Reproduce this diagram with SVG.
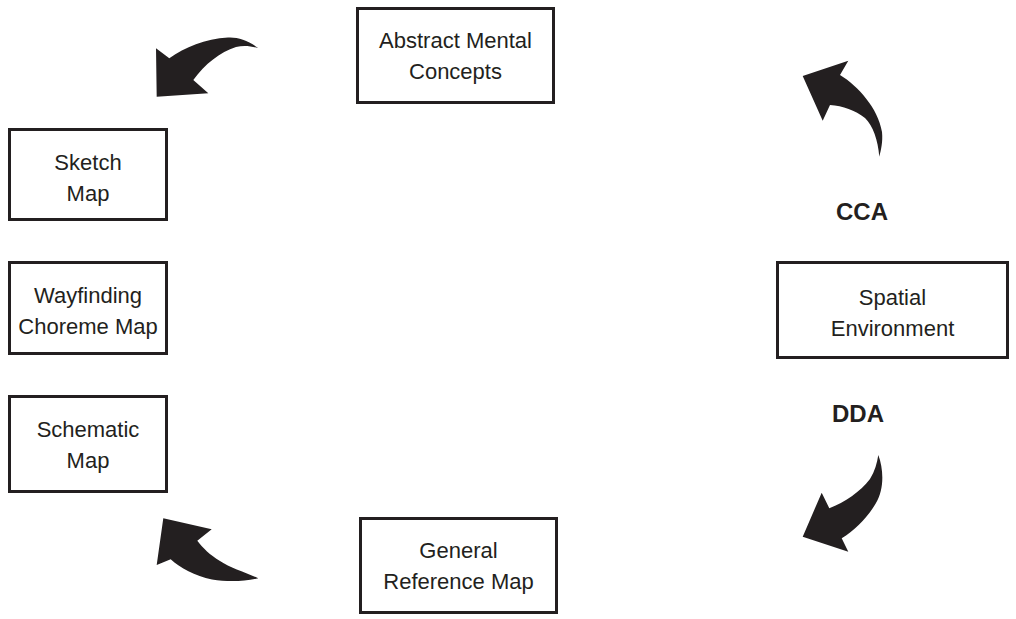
<svg xmlns="http://www.w3.org/2000/svg" width="1016" height="619" viewBox="0 0 1016 619">
  <style>
    .box { fill: #ffffff; stroke: #231f20; stroke-width: 3; }
    .lbl { font-family: "Liberation Sans", Arial, sans-serif; font-size: 22px; fill: #231f20; text-anchor: middle; }
    .tag { font-family: "Liberation Sans", Arial, sans-serif; font-size: 24px; font-weight: bold; fill: #231f20; text-anchor: middle; }
    .curved { fill: #231f20; stroke: none; }
  </style>
  <rect width="1016" height="619" fill="#ffffff"/>

  <g id="abstract-mental-concepts">
    <rect class="box" x="357.5" y="8.5" width="196" height="94"/>
    <text class="lbl" x="455.5" y="48">Abstract Mental</text>
    <text class="lbl" x="455.5" y="79">Concepts</text>
  </g>

  <g id="sketch-map">
    <rect class="box" x="9.5" y="129.5" width="157" height="90"/>
    <text class="lbl" x="88" y="170">Sketch</text>
    <text class="lbl" x="88" y="201">Map</text>
  </g>

  <g id="wayfinding-choreme-map">
    <rect class="box" x="9.5" y="262.5" width="157" height="91"/>
    <text class="lbl" x="88" y="303">Wayfinding</text>
    <text class="lbl" x="88" y="334">Choreme Map</text>
  </g>

  <g id="schematic-map">
    <rect class="box" x="9.5" y="396.5" width="157" height="95"/>
    <text class="lbl" x="88" y="437">Schematic</text>
    <text class="lbl" x="88" y="468">Map</text>
  </g>

  <g id="spatial-environment">
    <rect class="box" x="777.5" y="262.5" width="230" height="95"/>
    <text class="lbl" x="892.5" y="305">Spatial</text>
    <text class="lbl" x="892.5" y="336">Environment</text>
  </g>

  <g id="general-reference-map">
    <rect class="box" x="360.5" y="518.5" width="196" height="94"/>
    <text class="lbl" x="458.5" y="558">General</text>
    <text class="lbl" x="458.5" y="589">Reference Map</text>
  </g>

  <g id="connectors">
    <!-- Spatial Environment -> Abstract Mental Concepts (CCA) -->
    <path class="curved" d="M802.7,76 L848.3,60.7 L840,75 C858,86 878,108 882,132 C883,142 881,150 879.3,156.7 C878,140 873,126 865,118 C855,110 843,106 830,105 L822.7,120.7 Z"/>
    <text class="tag" x="862" y="220">CCA</text>

    <!-- Spatial Environment -> General Reference Map (DDA) -->
    <text class="tag" x="858" y="422">DDA</text>
    <path class="curved" d="M878.3,455 C884,470 884,490 876,503 C868,517 855,530 841.7,538.3 L848.3,551.7 L802.7,536.7 L821.7,492.7 L829.3,508.3 C845,502 860,492 870,479 C875,471 877,463 878.3,455 Z"/>

    <!-- Abstract Mental Concepts -> Sketch Map -->
    <path class="curved" d="M258.3,48.3 C248,40 238,37 228,37.5 C205,39 185,47 169.3,58.3 L156,48.3 L156.7,96.7 L208.3,93.3 L193.3,80 C205,64 220,52 236,47 C244,45 251,46 258.3,48.3 Z"/>

    <!-- Schematic Map -> General Reference Map (bottom-left) -->
    <path class="curved" d="M258.3,578.3 C245,572 230,568 220,561 C210,555 203,548 197.3,540.7 L211.7,529.3 L163.3,518.3 L156.7,565 L170.7,559.3 C180,568 195,576 212,579.5 C228,582 244,581.5 258.3,578.3 Z"/>
  </g>
</svg>
